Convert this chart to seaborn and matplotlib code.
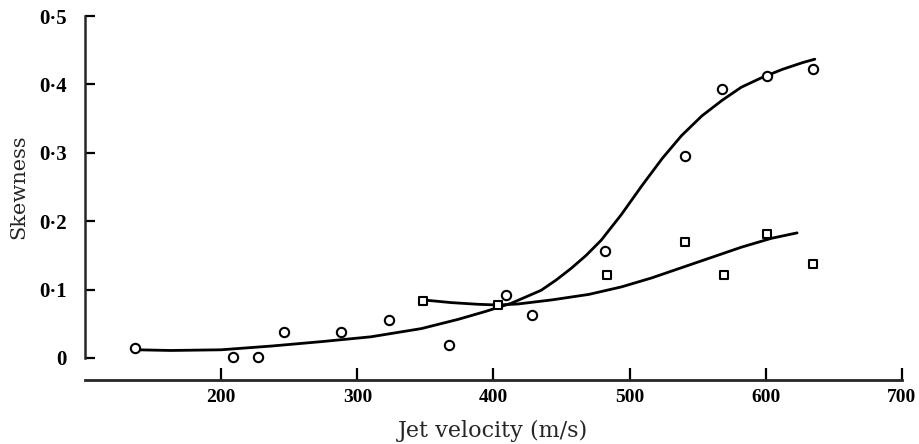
import matplotlib
matplotlib.use("Agg")
import matplotlib.pyplot as plt
import pandas as pd
import seaborn as sns

# circle points
circ_x = [137, 209, 227, 246, 288, 323, 367, 409, 428, 482, 541, 568, 601, 635]
circ_y = [0.015, 0.002, 0.002, 0.038, 0.038, 0.055, 0.019, 0.092, 0.063, 0.156, 0.296, 0.393, 0.412, 0.423]

# square points
sq_x = [348, 403, 483, 541, 569, 601, 635]
sq_y = [0.083, 0.078, 0.122, 0.169, 0.122, 0.182, 0.138]

# fitted curves
fit1_x = [138, 163, 200, 237, 274, 310, 347, 374, 394, 413, 435, 446, 457, 468, 479, 494,
          509, 524, 538, 553, 568, 582, 597, 612, 627, 636]
fit1_y = [0.012, 0.011, 0.012, 0.0175, 0.024, 0.031, 0.043, 0.0565, 0.068, 0.080, 0.099, 0.114, 0.131, 0.150, 0.172, 0.210,
          0.252, 0.292, 0.325, 0.354, 0.377, 0.396, 0.410, 0.422, 0.432, 0.437]
fit2_x = [348, 369, 389, 403, 418, 443, 470, 494, 516, 538, 560, 582, 604, 623]
fit2_y = [0.085, 0.081, 0.0785, 0.0775, 0.079, 0.085, 0.093, 0.104, 0.117, 0.132, 0.147, 0.162, 0.175, 0.183]

x_ticks = [200, 300, 400, 500, 600, 700]
y_ticks = [0, 0.1, 0.2, 0.3, 0.4, 0.5]
y_labels = ["0", "0·1", "0·2", "0·3", "0·4", "0·5"]

sns.set_style("ticks")
plt.rcParams["font.family"] = ["Liberation Serif", "DejaVu Serif"]

fig = plt.figure(figsize=(9.2, 4.44), dpi=100)
ax = fig.add_axes([0.0924, 0.1937, 0.888, 0.770])

df1 = pd.DataFrame({"x": fit1_x, "y": fit1_y})
df2 = pd.DataFrame({"x": fit2_x, "y": fit2_y})
sns.lineplot(data=df1, x="x", y="y", color="black", linewidth=2.0, ax=ax, sort=False)
sns.lineplot(data=df2, x="x", y="y", color="black", linewidth=2.0, ax=ax, sort=False)

dc = pd.DataFrame({"x": circ_x, "y": circ_y})
ds = pd.DataFrame({"x": sq_x, "y": sq_y})
sns.scatterplot(data=dc, x="x", y="y", marker="o", s=45, facecolor="white",
                edgecolor="black", linewidth=1.5, ax=ax, clip_on=False, zorder=3)
sns.scatterplot(data=ds, x="x", y="y", marker="s", s=32, facecolor="white",
                edgecolor="black", linewidth=1.5, ax=ax, clip_on=False, zorder=3)

# spines first: moving a spine resets the tick labels
ax.spines["top"].set_visible(False)
ax.spines["right"].set_visible(False)
ax.spines["bottom"].set_position(("outward", 16))
ax.spines["left"].set_linewidth(1.8)
ax.spines["bottom"].set_linewidth(2.0)

ax.set_xlim(100, 700)
ax.set_ylim(0, 0.5)
ax.set_xticks(x_ticks)
ax.set_xticklabels([str(t) for t in x_ticks], fontsize=14, fontweight="bold")
ax.set_yticks(y_ticks)
ax.set_yticklabels(y_labels, fontsize=15, fontweight="bold")
ax.tick_params(axis="y", direction="in", length=7, width=1.6, pad=13, colors="black")
ax.tick_params(axis="x", direction="in", length=9, width=1.6, pad=6, colors="black")

ax.set_xlabel("Jet velocity (m/s)", fontsize=16, family="DejaVu Serif", labelpad=10)
ax.set_ylabel("Skewness", fontsize=15, family="DejaVu Serif", labelpad=8)

fig.savefig("out.png", dpi=100)
